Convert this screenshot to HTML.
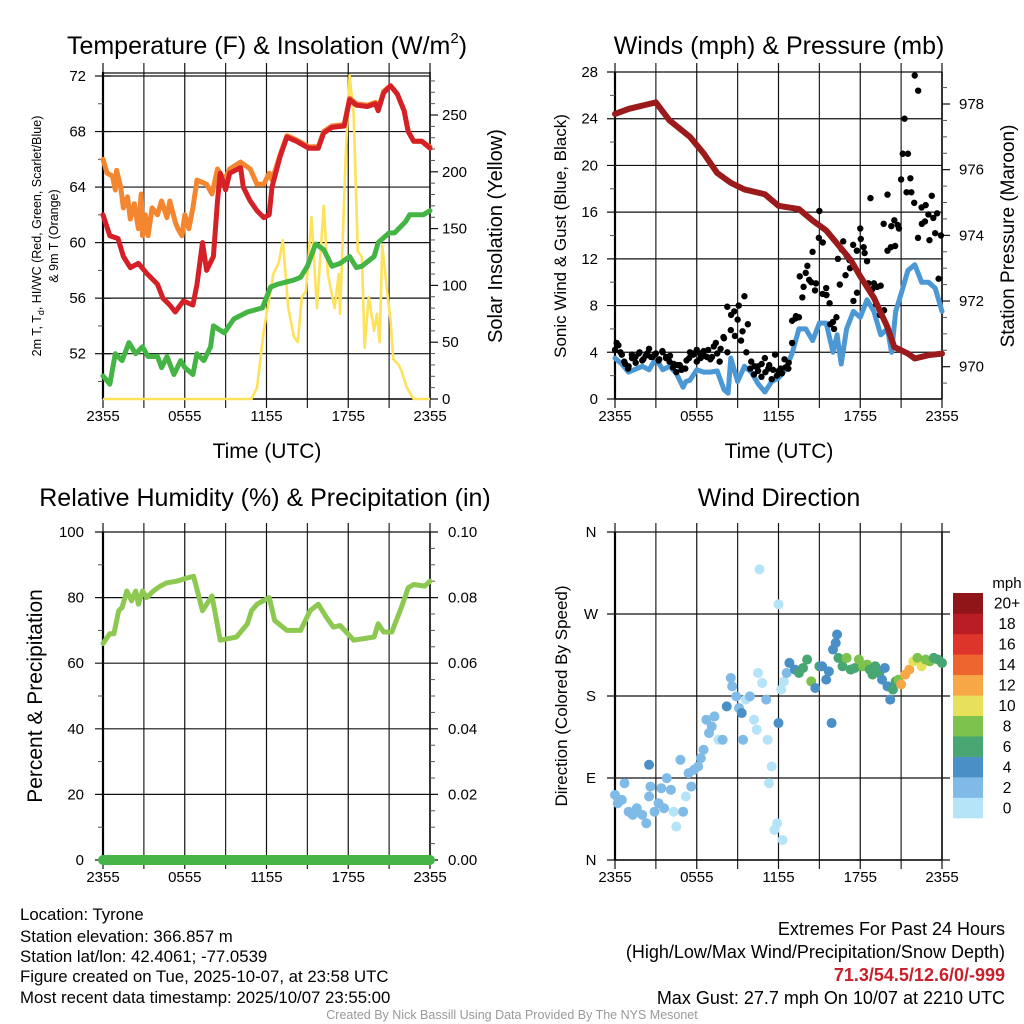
<!DOCTYPE html>
<html><head><meta charset="utf-8"><style>
html,body{margin:0;padding:0;background:#fff;}
svg{display:block;font-family:"Liberation Sans",sans-serif;}
.n{font-family:"Liberation Sans Narrow","Liberation Sans",sans-serif;}
</style></head><body>
<svg id="chart" width="1024" height="1024" viewBox="0 0 1024 1024" xmlns="http://www.w3.org/2000/svg">
<rect width="1024" height="1024" fill="#fff"/>
<text x="267" y="54" font-size="25" text-anchor="middle">Temperature (F) &amp; Insolation (W/m<tspan font-size="15" dy="-11">2</tspan><tspan dy="11">)</tspan></text>
<text x="779" y="54" font-size="25" text-anchor="middle">Winds (mph) &amp; Pressure (mb)</text>
<text x="265" y="506" font-size="25" text-anchor="middle">Relative Humidity (%) &amp; Precipitation (in)</text>
<text x="779" y="506" font-size="25" text-anchor="middle">Wind Direction</text>

<text transform="translate(41,236) rotate(-90)" font-size="12.5" text-anchor="middle">2m T, T<tspan font-size="9" dy="3">d</tspan><tspan dy="-3">, HI/WC (Red, Green, Scarlet/Blue)</tspan></text>
<text transform="translate(58,236) rotate(-90)" font-size="12.5" text-anchor="middle">&amp; 9m T (Orange)</text>
<text transform="translate(502,236) rotate(-90)" font-size="20" text-anchor="middle">Solar Insolation (Yellow)</text>
<text transform="translate(566,236) rotate(-90)" font-size="17" text-anchor="middle">Sonic Wind &amp; Gust (Blue, Black)</text>
<text transform="translate(1014,236) rotate(-90)" font-size="19" text-anchor="middle">Station Pressure (Maroon)</text>
<text transform="translate(42,696) rotate(-90)" font-size="21" text-anchor="middle">Percent &amp; Precipitation</text>
<text transform="translate(567,696) rotate(-90)" font-size="17" text-anchor="middle">Direction (Colored By Speed)</text>
<text x="267" y="458" font-size="21" text-anchor="middle">Time (UTC)</text>
<text x="779" y="458" font-size="21" text-anchor="middle">Time (UTC)</text>

<g class="n" font-size="16.8">
<text x="20" y="920">Location: Tyrone</text>
<text x="20" y="942">Station elevation: 366.857 m</text>
<text x="20" y="962">Station lat/lon: 42.4061; -77.0539</text>
<text x="20" y="982">Figure created on Tue, 2025-10-07, at 23:58 UTC</text>
<text x="20" y="1003">Most recent data timestamp: 2025/10/07 23:55:00</text>
</g>
<g class="n" font-size="18" text-anchor="end">
<text x="1005" y="935">Extremes For Past 24 Hours</text>
<text x="1005" y="958">(High/Low/Max Wind/Precipitation/Snow Depth)</text>
<text x="1005" y="981" fill="#c8202a" font-weight="bold">71.3/54.5/12.6/0/-999</text>
<text x="1005" y="1004">Max Gust: 27.7 mph On 10/07 at 2210 UTC</text>
</g>
<text class="n" x="512" y="1019" font-size="12.5" fill="#999" text-anchor="middle">Created By Nick Bassill Using Data Provided By The NYS Mesonet</text>
</svg>
<script>
// ---------- DATA ----------
const xTickLabels = ["2355","0555","1155","1755","2355"];
const tempTicks = [52,56,60,64,68,72];
const solarTicks = [0,50,100,150,200,250];
const windTicks = [0,4,8,12,16,20,24,28];
const presTicks = [970,972,974,976,978];
const rhTicks = [0,20,40,60,80,100];
const precipTicks = ["0.00","0.02","0.04","0.06","0.08","0.10"];
const dirTicks = ["N","E","S","W","N"];
const speedBinLabels = ["0","2","4","6","8","10","12","14","16","18","20+"];
const speedBinColors = ["#b5e3f8","#7fbbe6","#4a8fc6","#48a672","#7cc24c","#e6e05a","#f7a746","#ef6530","#dd3529","#bb1d24","#8f1519"];

const redT = [0,0.5,1.1,1.5,2,2.6,3.2,4,4.4,4.9,5.3,5.9,6.6,6.9,7.3,7.6,8.1,8.4,8.6,9,9.3,10.1,10.3,10.8,11.3,11.8,12.2,12.4,13,13.5,14.2,15.1,15.8,16.2,16.8,17.7,18.1,18.6,19.4,20,20.2,20.6,21.1,21.6,22.1,22.4,22.8,23.4,24];
const redV = [62,60.5,60.3,59,58.2,58.5,57.8,57,56,55.5,55,55.8,55.5,57,60,58,59,63,65,63.8,65,65.4,64,63,62.3,61.8,62,64,66.2,67.6,67.3,66.8,66.8,67.9,68.3,68.4,70.3,69.9,69.8,70,69.5,70.8,71.3,70.7,69.5,68,67.3,67.3,66.8];
const orangeT = [0,0.3,0.7,0.9,1,1.3,1.5,1.8,2,2.3,2.6,2.8,2.9,3.1,3.3,3.6,4,4.3,4.7,4.9,5.3,5.5,5.8,6,6.3,6.6,6.9,7.6,8,8.4,8.9,9.3,10.1,10.8,11.3,11.8,12.2,12.4,13,13.5,14.2,15.1,15.8,16.2,16.8,17.7,18.1,18.6,19.4,20,20.2,20.6,21.1,21.6,22.1,22.4,22.8,23.4,24];
const orangeV = [66,65,64.8,63.8,65.2,64,62.5,63.3,61.7,62.8,61,63.5,60.5,62,60.5,62.5,62,63,61.8,63,61.5,61,60.5,62,61,62.5,64.5,64.2,63.5,65.3,64.5,65.3,65.8,65.3,64.2,64.2,65,64.5,66.3,67.7,67.4,66.9,66.9,68,68.4,68.5,70.4,70,69.9,70.1,69.6,70.9,71.3,70.7,69.5,68,67.3,67.3,66.9];
const greenT = [0,0.5,0.9,1.4,1.9,2.4,2.9,3.3,4,4.3,4.7,5.2,5.7,6,6.6,6.9,7.4,7.9,8.1,8.9,9.6,10.6,11.7,12.3,12.8,14,14.5,15,15.6,16.2,16.8,17.4,18.1,18.6,19,19.9,20.2,21,21.4,22.2,22.5,23.5,24];
const greenV = [50.4,49.8,52,51.5,52.8,52,52.5,51.8,51.8,51,51.8,50.5,51.5,51,50.5,52,51.5,52.5,54,53.5,54.5,55,55.3,56.8,57,57.3,57.5,58.3,59.9,59.5,58.3,58.5,59,58.2,58.3,59,60,60.7,60.7,61.5,62,62,62.3];
const solarT = [0,10.9,11.3,11.8,12.5,12.9,13.2,13.6,14,14.3,14.6,14.9,15.3,15.7,16.2,16.5,17,17.3,17.4,17.8,18.1,18.4,18.7,19,19.2,19.5,19.9,20.1,20.3,20.5,20.9,21.1,21.3,21.7,21.9,22.3,22.8,24];
const solarV = [0,0,10,60,110,120,140,80,55,50,90,95,160,80,170,110,80,110,75,210,285,250,130,125,45,90,60,75,50,135,90,70,35,30,25,10,0,0];

const presT = [0,1,2.5,3,4,5.5,6.5,7.5,8.5,9.5,11,12,13.5,14.5,15.5,16.5,17.3,18,19,20,20.5,21.5,22,23,24];
const presV = [977.7,977.85,978.0,978.05,977.5,977.0,976.5,975.9,975.6,975.4,975.25,974.9,974.8,974.45,974.15,973.65,973.25,972.75,972.1,971.2,970.6,970.4,970.25,970.35,970.4];
const windT = [0,0.5,1,2,2.5,3,3.5,4,4.5,5,5.2,5.5,6,6.5,7,7.5,8,8.3,8.5,9,9.5,10,10.5,11,11.5,12,12.5,13,13.5,14,14.5,15,15.5,16,16.3,16.6,17,17.5,18,18.5,19,19.5,20,20.3,20.6,21,21.5,22,22.5,23,23.5,24];
const windV = [3.5,3,2.3,2.8,2.5,3.5,2.5,2.8,2.2,1,1.5,1.6,2.5,2.3,2.3,2.4,0.8,0.5,3.5,1.5,2.8,2.3,1.3,0.6,1.5,1.8,2.5,3.9,6,6,5,6.5,6.5,4,5.5,3,6,7.5,7,8.5,7.5,5.5,6,4,7.5,9,11,11.5,10,10,9.5,7.5];
const gustA = [4.2,4.6,3.8,3.0,2.8,3.5,3.6,3.9,3.3,3.7,4.3,3.6,3.9,3.4,4.0,3.5,3.2,2.7,2.3,2.9,2.6,3.3,4.0,3.8,3.2,3.9,4.1,3.6,3.4,4.5,3.9,4.3,5.2,4.0,5.9,7.5,6.8,5.0,8.8,6.4,3.2,2.8,2.4,1.9,3.5,2.6,1.7,3.8,2.4,2.2,2.7,3.1,4.8,6.9,7.0,8.7,10.8,10.2,12.6,9.9,16.1,13.4,9.5,8.2,6.6,7.0,9.8,13.5,12.3,11.2,8.4,12.7,14.6,13.0,11.8,17.2,9.9,9.6,9.7,7.6,17.5,13.0,15.3,14.9,18.8,24.0,21.0,17.7,27.7,26.4,16.4,15.2,15.8,17.4,14.2,10.3];
const gustB = [4.8,4.0,3.2,2.6,3.8,3.1,4.0,3.4,3.9,3.6,3.8,3.3,4.1,3.6,3.7,3.0,2.9,2.5,2.6,3.5,3.9,4.2,3.5,3.7,4.2,3.6,4.8,3.2,5.3,7.9,7.2,5.4,8.0,5.8,4.0,2.6,2.1,2.8,3.0,2.3,2.9,2.5,2.0,2.6,3.4,2.6,6.7,7.1,10.5,9.6,11.4,10.0,9.3,13.8,9.0,8.9,6.4,6.0,12.0,12.8,10.6,11.9,13.2,9.1,13.7,12.5,9.9,9.4,8.1,7.2,15.0,12.7,14.8,13.1,14.6,21.0,17.7,18.9,16.8,13.8,15.0,16.6,13.6,15.5,15.9,14.0];

const rhT = [0,0.5,0.8,1.15,1.4,1.75,2.1,2.4,2.6,2.9,3.2,3.7,4.2,4.7,5.4,6.2,6.65,7.3,8,8.6,9.8,10.6,10.9,11.3,12.2,12.6,13.5,14.5,15.2,15.8,16.4,16.9,17.4,18.4,19.9,20.2,20.6,21.2,21.9,22.4,22.8,23.6,24];
const rhV = [66,69,69,76,77,82,79,82,78,82,80,82,83.5,84.5,85,86,86.5,76,80.5,67,68,72,76,78,80,73,70,70,76,78,74,71,71.5,67,68,72,69.5,69.5,77,83,84,83.5,85];
const precipT = [0,24];
const precipV = [0,0];

const dirT = [0,0.2,0.5,0.7,1.0,1.3,1.6,2.0,2.3,2.5,2.5,2.6,2.9,3.2,3.4,3.6,3.8,4.1,4.3,4.5,4.8,5.0,5.2,5.4,5.6,5.8,6.1,6.3,6.5,6.7,6.9,7.1,7.3,7.6,7.9,8.2,8.5,8.6,8.9,9.1,9.3,9.4,9.6,9.9,10.2,10.4,10.5,10.8,10.6,11.1,11.2,11.3,11.5,11.7,11.9,12.0,12.0,12.3,12.2,12.4,12.6,12.8,13.2,13.5,13.8,14.1,14.4,14.7,15.0,15.2,15.5,15.7,15.9,16.0,16.2,16.3,16.4,16.7,17.0,17.3,17.6,17.9,18.2,18.5,18.7,18.9,19.1,19.4,19.6,19.8,20.0,20.2,20.4,20.6,20.8,21.0,21.3,21.6,21.9,22.2,22.5,22.8,23.1,23.4,23.7,24];
const dirV = [71.5,62.3,66,84.3,53,49.5,56.8,49.5,40.3,69.7,104.5,80.6,53,62.3,78.8,56.8,89.8,77,53,36.7,110,53,69.7,95.3,80.6,99,102.6,111.8,121,154,139.3,146.6,157.6,132,132,168.6,199.8,190.6,179.6,166.8,161.3,132,176,179.6,154,143,205.3,194.3,319,176,132,84.3,102.6,33,40.3,150.3,280.5,22,187,196,205.3,216.3,209,205.3,210.8,220,196,188.8,212.6,212.6,198,207,150.3,231,238.3,247.5,221.8,212.6,221.8,209,210.8,220,212.6,214.5,209,203.5,212.6,205.3,198,210.8,190.6,176,187,196,198,192.7,203.5,209,218,221.8,212.6,220,218,221.8,220,216.3];
const dirS = [2.5,3,2.5,2.5,2.5,2.5,2.5,2.5,2.5,2.5,4.5,2.5,2.5,2.5,2.5,2.5,2.5,2.5,1.5,1,2.5,2.5,1.5,2.5,2.5,2.5,2.5,2.5,2.5,2.5,2.5,2.5,2.5,1.5,2.5,4,2.5,3,2.5,2.5,4.5,2.5,1.5,2.5,1,1,1,1.5,0.5,2.5,1.5,1,1,0.5,0.5,4,0.5,0.5,1.5,1.5,2.5,4.5,4.5,6.5,6.5,7,8,4.5,7,4.5,4.5,4.5,4.5,4.5,4.5,4.5,6.5,6.5,8,7,6.5,8,8,9,6.5,7,6,6.5,5,4.5,4.5,4.5,7,7,9,12.5,12.5,12,10,9,10,9,8,7,7,7];

// ---------- RENDER ----------
const svg = document.getElementById('chart');
const NS = 'http://www.w3.org/2000/svg';
function mk(tag, attrs, parent){
  const e = document.createElementNS(NS, tag);
  for (const k in attrs) e.setAttribute(k, attrs[k]);
  (parent||svg).appendChild(e);
  return e;
}
function txt(x,y,s,size,anchor,parent){
  const t = mk('text',{x:x,y:y,'font-size':size,'text-anchor':anchor||'middle'},parent);
  t.textContent = s;
  return t;
}
function xScale(x0,x1){ return t => x0 + t/24*(x1-x0); }
function lin(v0,p0,v1,p1){ return v => p0 + (v-v0)*(p1-p0)/(v1-v0); }
function pathD(ts,vs,xs,ys){ return ts.map((t,i)=>(i?'L':'M')+xs(t).toFixed(1)+','+ys(vs[i]).toFixed(1)).join(''); }

function frame(x0,x1,yTop,yBot,name){
  const g = mk('g',{});
  
  
  for (let i=0;i<=8;i++){
    const x = x0 + i*(x1-x0)/8;
    const l = mk('line',{x1:x,x2:x,y1:yTop-9,y2:yBot+9,stroke:(i%2?'#222':'#111'),'stroke-width':1.2},g);
    
    
  }
  mk('line',{x1:x0,x2:x0,y1:yTop,y2:yBot,stroke:'#000','stroke-width':2.2},g);
  mk('line',{x1:x1,x2:x1,y1:yTop,y2:yBot,stroke:'#000','stroke-width':1.5},g);
  mk('line',{x1:x0,x2:x1,y1:yBot,y2:yBot,stroke:'#000','stroke-width':1.5},g);
  xTickLabels.forEach((s,i)=>{
    const lb = txt(x0+i*(x1-x0)/4, yBot+22, s, 15, 'middle', g);
    
    
  });
  return g;
}
function hgrid(g,y,x0,x1){ mk('line',{x1:x0-8,x2:x1+8,y1:y,y2:y,stroke:'#111','stroke-width':1.2},g); }
function minor(g,y,x,dir){ mk('line',{x1:x,x2:x+dir*5,y1:y,y2:y,stroke:'#555','stroke-width':1},g); }

// Panel 1
(function(){
  const x0=103,x1=430,yTop=72,yBot=399;
  const xs = xScale(x0,x1);
  const yT = lin(52,353.7,72,76);
  const yS = lin(0,399,250,115);
  const g = frame(x0,x1,yTop,yBot,'temperature-panel');
  mk('line',{x1:x0,x2:x1,y1:73,y2:73,stroke:'#111','stroke-width':1.2},g);
  tempTicks.forEach(v=>{ hgrid(g,yT(v),x0,x0); mk('line',{x1:x0,x2:x1,y1:yT(v),y2:yT(v),stroke:'#111','stroke-width':1.2},g);
    const lb = txt(86,yT(v)+5,String(v),15,'end',g);
    
     });
  for (let v=50; v<72; v+=2) if (v%4) minor(g,yT(v),x0,-1);
  solarTicks.forEach(v=>{ mk('line',{x1:x1,x2:x1+8,y1:yS(v),y2:yS(v),stroke:'#111','stroke-width':1.2},g);
    const lb = txt(442,yS(v)+5,String(v),15,'start',g);
    
     });
  for (let v=10; v<290; v+=10) if (v%50) minor(g,yS(v),x1,1);
  const y = mk('path',{d:pathD(solarT,solarV,xs,yS),fill:'none',stroke:'#fde25a','stroke-width':2.6,'stroke-linejoin':'round'});
  
  
  const o = mk('path',{d:pathD(orangeT,orangeV,xs,yT),fill:'none',stroke:'#f48630','stroke-width':5,'stroke-linejoin':'round','stroke-linecap':'round'});
  
  
  const r = mk('path',{d:pathD(redT,redV,xs,yT),fill:'none',stroke:'#d42026','stroke-width':5,'stroke-linejoin':'round','stroke-linecap':'round'});
  
  
  const gr = mk('path',{d:pathD(greenT,greenV,xs,yT),fill:'none',stroke:'#44b445','stroke-width':5,'stroke-linejoin':'round','stroke-linecap':'round'});
  
  
})();

// Panel 2
(function(){
  const x0=615,x1=942,yTop=72,yBot=399;
  const xs = xScale(x0,x1);
  const yW = lin(0,399,28,72);
  const yP = lin(970,366.7,978,104);
  const g = frame(x0,x1,yTop,yBot,'winds-panel');
  windTicks.forEach(v=>{ mk('line',{x1:x0-8,x2:x1,y1:yW(v),y2:yW(v),stroke:'#111','stroke-width':1.2},g);
    const lb = txt(598,yW(v)+5,String(v),15,'end',g);
    
     });
  for (let v=2; v<28; v+=4) minor(g,yW(v),x0,-1);
  presTicks.forEach(v=>{ mk('line',{x1:x1,x2:x1+8,y1:yP(v),y2:yP(v),stroke:'#111','stroke-width':1.2},g);
    const lb = txt(959,yP(v)+5,String(v),15,'start',g);
    
     });
  for (let v=969.5; v<979; v+=0.5) if (v%2) minor(g,yP(v),x1,1);
  const b = mk('path',{d:pathD(windT,windV,xs,yW),fill:'none',stroke:'#4b98d4','stroke-width':5,'stroke-linejoin':'round','stroke-linecap':'round'});
  
  
  const gg = mk('g',{fill:'#000'});
  
  
  gustA.forEach((v,i)=>{ const c = mk('circle',{cx:xs(i*0.25),cy:yW(v),r:3.2},gg);
    
     });
  gustB.forEach((v,i)=>{ const c = mk('circle',{cx:xs(i*0.28+0.12),cy:yW(v),r:3.2},gg);
    
     });
  const p = mk('path',{d:pathD(presT,presV,xs,yP),fill:'none',stroke:'#9b1a1c','stroke-width':6,'stroke-linejoin':'round','stroke-linecap':'round'});
  
  
})();

// Panel 3
(function(){
  const x0=103,x1=430,yTop=532,yBot=860;
  const xs = xScale(x0,x1);
  const yR = lin(0,860,100,532);
  const g = frame(x0,x1,yTop,yBot,'humidity-panel');
  rhTicks.forEach((v,i)=>{ mk('line',{x1:x0-8,x2:x1+8,y1:yR(v),y2:yR(v),stroke:'#111','stroke-width':1.2},g);
    const lb = txt(84,yR(v)+5,String(v),15,'end',g);
    
    
    const rl = txt(448,yR(v)+5,precipTicks[i],15,'start',g);
    
     });
  for (let v=10; v<100; v+=20){ minor(g,yR(v),x0,-1); }
  for (let v=5; v<100; v+=5) if (v%20) minor(g,yR(v),x1,1);
  const h = mk('path',{d:pathD(rhT,rhV,xs,yR),fill:'none',stroke:'#8dc850','stroke-width':5,'stroke-linejoin':'round','stroke-linecap':'round'});
  
  
  const pr = mk('path',{d:pathD(precipT,precipV.map(v=>v*1000),xs,yR),fill:'none',stroke:'#46b446','stroke-width':10,'stroke-linecap':'round'});
  
  
})();

// Panel 4
(function(){
  const x0=615,x1=942,yTop=532,yBot=860;
  const xs = xScale(x0,x1);
  const yD = lin(0,860,360,532);
  const g = frame(x0,x1,yTop,yBot,'wind-direction-panel');
  dirTicks.forEach((s,i)=>{ const y = yD(i*90); mk('line',{x1:x0-8,x2:x1+8,y1:y,y2:y,stroke:'#111','stroke-width':1.2},g);
    const lb = txt(591,y+5,s,15,'middle',g);
    
     });
  const pg = mk('g',{});
  
  
  dirT.forEach((t,i)=>{
    const bin = Math.min(10, Math.floor(dirS[i]/2));
    const c = mk('circle',{cx:xs(t),cy:yD(dirV[i]),r:5,fill:speedBinColors[bin]},pg);
    
    
  });
  const lg = mk('g',{});
  
  
  const bh = 225/11;
  speedBinColors.forEach((c,i)=>{
    const yy = 818 - (i+1)*bh;
    const r = mk('rect',{x:953,y:yy,width:30,height:bh+0.3,fill:c},lg);
    
    
    const lb = txt(1007,yy+bh/2+5.5,speedBinLabels[i],15.5,'middle',lg);
    
    
  });
  const u = txt(1007,588,'mph',15,'middle',lg);
  
  
})();
</script>
</body></html>
